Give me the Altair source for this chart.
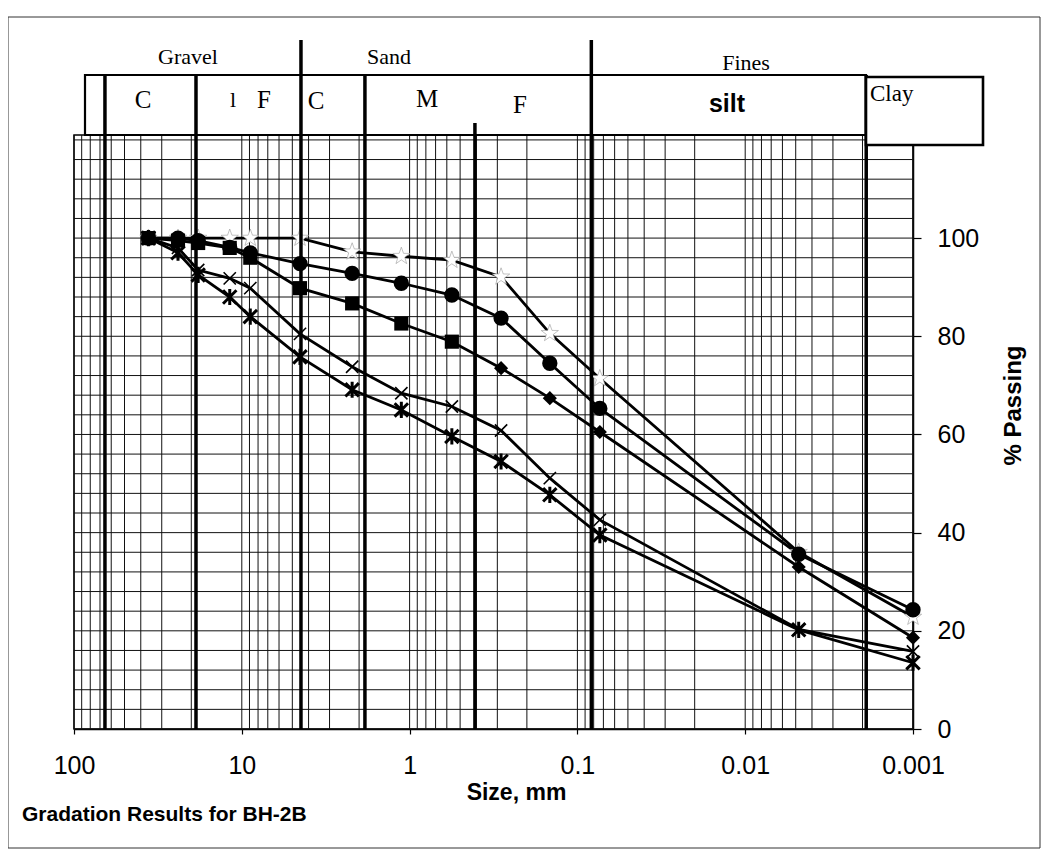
import altair as alt
import pandas as pd

# ---------------- data ----------------
sizes = [36.0, 24.0, 18.2, 11.8, 8.9, 4.5, 2.2, 1.12, 0.56, 0.285, 0.146, 0.0735, 0.0048, 0.001]
series_a = [100, 100, 100, 100, 100, 100, 97.2, 96.3, 95.5, 92.1, 80.6, 71.4, 36.0, 22.8]   # white markers
series_b = [100, 100, 99.5, 98.1, 97.0, 94.8, 92.8, 90.8, 88.4, 83.7, 74.5, 65.3, 35.6, 24.3]  # circles
series_c = [100, 99.5, 99.0, 98.0, 96.0, 89.8, 86.7, 82.6, 78.9, 73.5, 67.4, 60.5, 33.0, 18.6]  # squares / diamonds
series_d = [100, 98.0, 93.5, 91.8, 89.8, 80.5, 73.8, 68.4, 65.7, 60.8, 51.1, 42.6, 20.3, 15.8]  # thin x
series_e = [100, 97.0, 92.5, 88.0, 84.0, 75.8, 69.1, 65.0, 59.6, 54.5, 47.7, 39.5, 20.2, 13.5]  # asterisk
c_square_count = 9  # first points of series C drawn as squares, the rest as diamonds

boundary_full = [65.4, 18.75, 1.846, 0.0019]   # boundaries drawn from header row 2
boundary_tall = [4.44, 0.0826]                 # gravel/sand and sand/fines
boundary_short = [0.408]                       # medium/fine sand

x_tick_values = [100, 10, 1, 0.1, 0.01, 0.001]
y_tick_values = [0, 20, 40, 60, 80, 100]
grid_x = [k * 10.0 ** e for e in range(-3, 2) for k in range(1, 10)] + [100.0]
grid_y = list(range(0, 124, 4))

# ---------------- frame ----------------
W, H = 839, 594
FONT = "Liberation Sans"
SERIF = "Liberation Serif"

rows = []
for name, vals in [("A", series_a), ("B", series_b), ("C", series_c), ("D", series_d), ("E", series_e)]:
    for i, (s, v) in enumerate(zip(sizes, vals)):
        rows.append({"size": s, "passing": v, "series": name, "idx": i})
df = pd.DataFrame(rows)

xscale = alt.Scale(type="log", domain=[0.001, 100], reverse=True, nice=False)
yscale = alt.Scale(domain=[0, 121], nice=False, zero=False)

xaxis = alt.Axis(values=x_tick_values, format="~g", title="Size, mm", grid=False,
                 tickSize=5, tickColor="black", tickWidth=1.2, domainColor="black", domainWidth=1.5,
                 labelFontSize=25, labelFont=FONT, labelColor="black", labelPadding=19,
                 labelFlush=False, labelOverlap=False,
                 titleFontSize=23, titleFont=FONT, titleFontWeight="bold", titleColor="black",
                 titleX=442, titleY=63, titleBaseline="middle", titleAlign="center")
yaxis = alt.Axis(orient="right", values=y_tick_values, grid=False, tickSize=8, tickColor="black",
                 tickWidth=1.2, domainColor="black", domainWidth=1.5,
                 labelFontSize=25, labelFont=FONT, labelColor="black", labelAlign="left",
                 labelBaseline="middle", labelPadding=16,
                 title="% Passing", titleFontSize=24, titleFont=FONT, titleFontWeight="bold",
                 titleColor="black", titleAngle=270, titleX=100, titleY=270,
                 titleBaseline="middle", titleAlign="center")


def X(f):
    return alt.X(f"{f}:Q", scale=xscale, axis=xaxis)


def Y(f):
    return alt.Y(f"{f}:Q", scale=yscale, axis=yaxis)


layers = []

# grid
layers.append(alt.Chart(pd.DataFrame({"gx": grid_x})).mark_rule(color="#111", strokeWidth=1)
              .encode(x=X("gx")))
layers.append(alt.Chart(pd.DataFrame({"gy": grid_y})).mark_rule(color="#111", strokeWidth=1)
              .encode(y=Y("gy")))

# series lines
layers.append(alt.Chart(df).mark_line(color="black", strokeWidth=2.8)
              .encode(x=X("size"), y=Y("passing"), detail="series:N", order="idx:Q"))

star = "M0,-1L0.24,-0.32L0.95,-0.31L0.38,0.12L0.59,0.81L0,0.4L-0.59,0.81L-0.38,0.12L-0.95,-0.31L-0.24,-0.32Z"
layers.append(alt.Chart(df).transform_filter(alt.datum.series == "A")
              .mark_point(shape=star, filled=True, fill="white", stroke="#999", strokeWidth=0.6,
                          size=330, opacity=1)
              .encode(x=X("size"), y=Y("passing")))

# classification boundaries
for vals, top in [(boundary_full, -60), (boundary_tall, -95), (boundary_short, -12)]:
    layers.append(alt.Chart(pd.DataFrame({"b": vals})).mark_rule(color="black", strokeWidth=3.5)
                  .encode(x=X("b"), y=alt.value(top), y2=alt.value(H)))

# markers
layers.append(alt.Chart(df).transform_filter(alt.datum.series == "B")
              .mark_circle(color="black", size=235, opacity=1)
              .encode(x=X("size"), y=Y("passing")))
layers.append(alt.Chart(df).transform_filter((alt.datum.series == "C") & (alt.datum.idx < c_square_count))
              .mark_square(color="black", size=200, opacity=1)
              .encode(x=X("size"), y=Y("passing")))
layers.append(alt.Chart(df).transform_filter((alt.datum.series == "C") & (alt.datum.idx >= c_square_count))
              .mark_point(shape="diamond", filled=True, color="black", size=200, opacity=1)
              .encode(x=X("size"), y=Y("passing")))
layers.append(alt.Chart(df).transform_filter(alt.datum.series == "D")
              .mark_point(shape="M-1,-1L1,1M-1,1L1,-1", filled=False, color="black",
                          strokeWidth=1.6, size=150, opacity=1)
              .encode(x=X("size"), y=Y("passing")))
layers.append(alt.Chart(df).transform_filter(alt.datum.series == "E")
              .mark_point(shape="M-1,-1L1,1M-1,1L1,-1M0,-1.2L0,1.2", filled=False, color="black",
                          strokeWidth=3, size=180, opacity=1)
              .encode(x=X("size"), y=Y("passing")))

# header table
one = pd.DataFrame({"k": [0]})
layers.append(alt.Chart(one).mark_rect(fill=None, stroke="black", strokeWidth=2.2)
              .encode(x=alt.value(11), x2=alt.value(792), y=alt.value(-60), y2=alt.value(0)))
layers.append(alt.Chart(one).mark_rect(fill="white", stroke="black", strokeWidth=2.6)
              .encode(x=alt.value(792), x2=alt.value(909), y=alt.value(-58), y2=alt.value(10)))
# outer frame
layers.append(alt.Chart(one).mark_rect(fill=None, stroke="#333", strokeWidth=1)
              .encode(x=alt.value(-66), x2=alt.value(966), y=alt.value(-118), y2=alt.value(713)))


def label(text, x, y, font=SERIF, size=21, weight="normal", align="center"):
    return (alt.Chart(pd.DataFrame({"t": [text]}))
            .mark_text(font=font, fontSize=size, fontWeight=weight, align=align,
                       baseline="middle", color="black")
            .encode(text="t:N", x=alt.value(x), y=alt.value(y)))


layers += [
    label("Gravel", 114, -78, size=22),
    label("Sand", 315, -78, size=22),
    label("Fines", 672, -72, size=22),
    label("C", 69, -35, size=25),
    label("l", 159, -35, size=22),
    label("F", 190, -35, size=25),
    label("C", 242, -34, size=25),
    label("M", 353, -36, size=25),
    label("F", 446, -30, size=25),
    label("silt", 653, -31, font=FONT, size=25, weight="bold"),
    label("Clay", 796, -41, size=23, align="left"),
    label("Gradation Results for BH-2B", -52, 680, font=FONT, size=21, weight="bold", align="left"),
]

chart = (alt.layer(*layers)
         .properties(width=W, height=H,
                     padding={"left": 66, "top": 127, "right": 129, "bottom": 125},
                     autosize=alt.AutoSizeParams(type="none"))
         .configure_view(stroke="black", strokeWidth=1.5))

chart.save("out.html", embed_options={"renderer": "svg", "actions": False})
